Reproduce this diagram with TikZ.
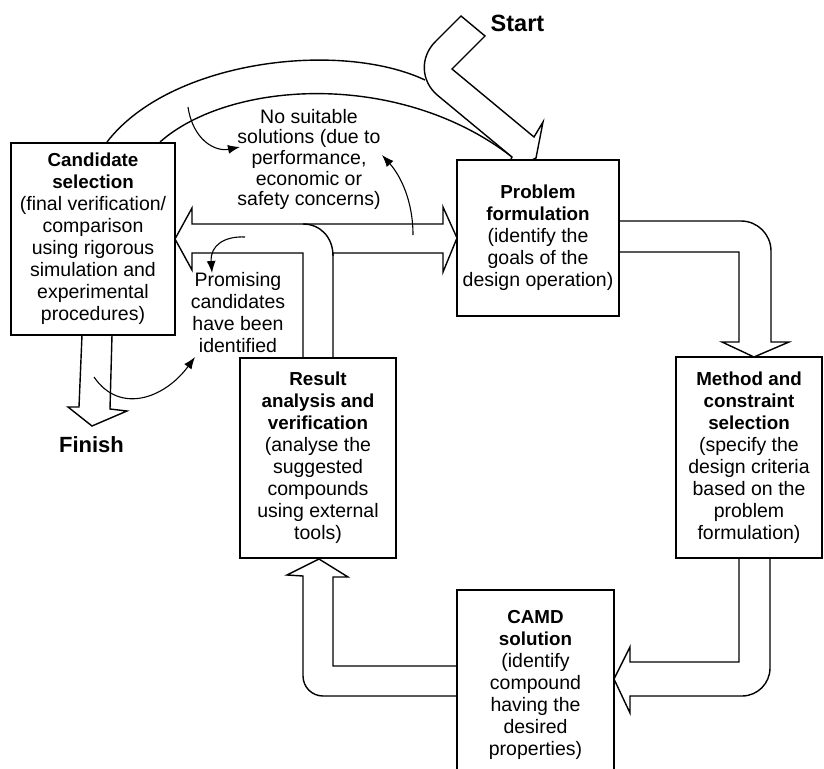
\documentclass[tikz,border=0pt]{standalone}
\usepackage{fontspec}
\setmainfont{Liberation Sans}
\usetikzlibrary{arrows.meta}
\newcommand{\ttl}[1]{{\fontsize{18.8}{22}\selectfont\bfseries #1}}
\begin{document}
\begin{tikzpicture}[x=1pt,y=-1pt,
  box/.style={draw, line width=1.7pt, fill=white, align=center, inner sep=0pt, font=\fontsize{19.5}{22}\selectfont},
  band/.style={draw, line width=1.4pt, fill=white, line join=miter},
  note/.style={align=center, inner sep=0pt, font=\fontsize{19.5}{22}\selectfont},
  curv/.style={line width=1.1pt, -{Latex[length=12pt,width=9pt]}},
  big/.style={inner sep=0pt, font=\fontsize{22}{26}\selectfont\bfseries}]
\useasboundingbox (0,0) rectangle (824,768);
\clip (0,0) rectangle (824,768);

% loop-back band from candidate selection to problem formulation
\draw[line width=1.4pt] (107,142) .. controls (170,60) and (340,40) .. (425,80);
\draw[line width=1.4pt] (160,142) .. controls (230,80) and (400,70) .. (512,157);

% start arrow
\draw[band] (461,16) -- (485,36) -- (452,69) -- (534,137) -- (543,122) -- (536,158)
  -- (504,174) -- (512,157) [rounded corners=40pt] -- (407,70) [sharp corners] -- cycle;

% problem -> method
\draw[band] (619,221) [rounded corners=30pt] -- (771,221) [sharp corners] -- (771,342)
  -- (789,342) -- (754,357) -- (722,342) -- (739,342) -- (739,252) -- (619,252);
% method -> CAMD
\draw[band] (739,558) -- (739,662) -- (630,662) -- (630,647) -- (614,679) -- (630,713)
  -- (630,696) [rounded corners=28pt] -- (770,696) [sharp corners] -- (770,558);
% CAMD -> result
\draw[band] (457,666) -- (333,666) -- (333,577) -- (348,577) -- (319,559) -- (287,575)
  -- (303,576) [rounded corners=20pt] -- (303,696) [sharp corners] -- (457,696);
% result -> candidate / problem (T band)
\draw[band] (303,358) -- (303,253) -- (192,253) -- (192,270) -- (175,239) -- (192,208)
  -- (192,224) -- (443,224) -- (443,207) -- (457,238) -- (443,272) -- (443,253)
  -- (333,253) -- (333,358);
\draw[line width=1.4pt] (303,224) .. controls (320,224) and (333,237) .. (333,256);
% candidate -> finish
\draw[band] (82,335) -- (79,407) -- (68,407) -- (92,426) -- (127,411) -- (110,409) -- (112,335);

% boxes
\node[box, minimum width=164pt, minimum height=192pt] (cand) at (93,239)
  {\ttl{Candidate}\\\ttl{selection}\\(final verification/\\comparison\\using rigorous\\simulation and\\experimental\\procedures)};
\node[box, minimum width=162pt, minimum height=156pt] (prob) at (538,238)
  {\ttl{Problem}\\\ttl{formulation}\\(identify the\\goals of the\\design operation)};
\node[box, minimum width=146pt, minimum height=201pt] (meth) at (749,457.5)
  {\ttl{Method and}\\\ttl{constraint}\\\ttl{selection}\\(specify the\\design criteria\\based on the\\problem\\formulation)};
\node[box, minimum width=156pt, minimum height=200pt] (res) at (318,458)
  {\ttl{Result}\\\ttl{analysis and}\\\ttl{verification}\\(analyse the\\suggested\\compounds\\using external\\tools)};
\node[box, minimum width=157pt, minimum height=189pt] (camd) at (535.5,684.5)
  {\ttl{CAMD}\\\ttl{solution}\\(identify\\compound\\having the\\desired\\properties)};

% notes
\node[note, font=\fontsize{19.5}{20.7}\selectfont] (nosuit) at (309,159.5)
  {No suitable\\solutions (due to\\performance,\\economic or\\safety concerns)};
\node[note, font=\fontsize{19.5}{22.3}\selectfont] (prom) at (238,312.5)
  {Promising\\candidates\\have been\\identified};
\node[big, font=\fontsize{23.5}{26}\selectfont\bfseries] (start) at (517.5,23) {Start};
\node[big] (finish) at (91.5,445) {Finish};

% small curved arrows
\draw[curv] (188,107) .. controls (193,140) and (215,152) .. (240,147);
\draw[curv] (413,235) .. controls (413,200) and (400,175) .. (382,155);
\draw[curv] (245,237) .. controls (225,236) and (210,245) .. (212,273);
\draw[curv] (94,377) .. controls (120,415) and (165,398) .. (195,357);
\end{tikzpicture}
\end{document}
